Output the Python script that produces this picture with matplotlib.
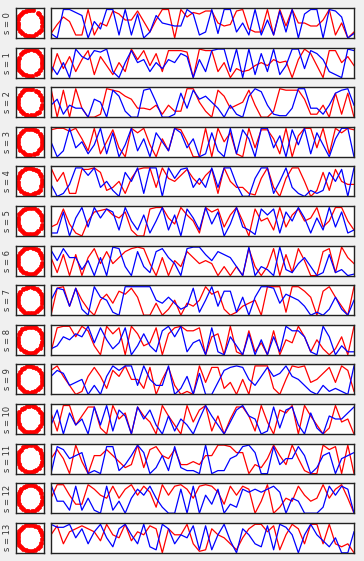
import numpy as np
import matplotlib
matplotlib.use("Agg")
import matplotlib.pyplot as plt

# --- data: one red and one blue series per row ---
red = [
    [0.15,0.45,0.7,0.55,0.1, 0.1,0.95,0.1,0.5,0.4,
     0.9,0.8,0.6,0.6,0.9,0.55,0.2,0.6,0.95,0.95,
     0.0,0.95,0.7,0.85,0.8,0.9,0.9,0.5,0.4,0.45,
     0.9,0.95,0.3,0.2,0.2,0.95,0.1,0.95,0.4,0.95,
     0.5,0.5,0.4,0.4,0.6,0.95,0.1,0.5,0.0,0.2],
    [0.1,0.8,0.3,0.7,0.2,0.6,0.9,0.1,0.7,0.4,
     0.1,0.5,0.2,0.95,0.6,0.9,0.4,0.8,0.2,0.9,
     0.9,0.9,0.85,0.0,0.95,0.9,0.9,0.2,0.5,0.0,
     0.3,0.2,0.25,0.4,0.5,0.4,0.6,0.5,0.55,0.0,
     0.6,0.95,0.8,0.4,0.0,0.9,0.9,0.5,0.7,0.4],
    [0.95,0.0,0.9,0.0,0.95,0.3,0.0,0.0,0.1,0.95,
     0.9,0.85,0.7,0.6,0.3,0.3,0.25,0.4,0.1,0.4,
     0.2,0.2,0.95,0.95,0.5,0.2,0.0,0.9,0.7,0.3,
     0.4,0.5,0.9,0.4,0.0,0.0,0.2,0.95,0.9,0.9,
     0.9,0.6,0.1,0.1,0.4,0.0,0.8,0.1,0.8,0.0],
    [0.9,0.95,0.95,0.85,0.95,0.6,0.2,0.95,0.1,0.5,
     0.9,0.3,0.0,0.95,0.8,0.95,0.4,0.0,0.6,0.2,
     0.95,0.9,0.5,0.0,0.0,0.95,0.0,0.95,0.5,0.8,
     0.1,0.0,0.95,0.3,0.9,0.9,0.6,0.1,0.95,0.0,
     0.7,0.95,0.95,0.3,0.95,0.1,0.95,0.8,0.95,0.9],
    [0.95,0.5,0.8,0.1,0.1,0.9,0.9,0.95,0.8,0.2,
     0.3,0.5,0.1,0.6,0.9,0.95,0.95,0.3,0.95,0.6,
     0.5,0.7,0.9,0.6,0.4,0.7,0.9,0.1,0.95,0.5,
     0.3,0.3,0.1,0.05,0.6,0.95,0.3,0.0,0.6,0.95,
     0.95,0.5,0.0,0.2,0.8,0.2,0.9,0.5,0.4,0.4],
    [0.3,0.4,0.9,0.4,0.1,0.0,0.5,0.8,0.85,0.9,
     0.7,0.6,0.8,0.2,0.0,0.0,0.9,0.95,0.95,0.6,
     0.4,0.95,0.7,0.5,0.1,0.95,0.8,0.9,0.3,0.7,
     0.95,0.5,0.0,0.9,0.5,0.6,0.2,0.95,0.3,0.7,
     0.9,0.5,0.6,0.95,0.3,0.5,0.95,0.95,0.5,0.2],
    [0.6,0.1,0.7,0.0,0.7,0.0,0.6,0.9,0.4,0.8,
     0.4,0.6,0.8,0.9,0.95,0.9,0.4,0.0,0.6,0.0,
     0.5,0.3,0.8,0.6,0.4,0.5,0.4,0.0,0.3,0.0,
     0.3,0.0,0.9,0.3,0.0,0.3,0.9,0.0,0.7,0.1,
     0.9,0.5,0.0,0.0,0.8,0.9,0.1,0.95,0.6,0.4],
    [0.0,0.9,0.95,0.3,0.9,0.5,0.2,0.0,0.5,0.7,
     0.4,0.8,0.7,0.9,0.6,0.0,0.0,0.4,0.0,0.2,
     0.5,0.0,0.4,0.3,0.5,0.95,0.7,0.8,0.2,0.0,
     0.1,0.3,0.4,0.5,0.0,0.95,0.95,0.95,0.1,0.95,
     0.95,0.8,0.6,0.0,0.8,0.95,0.6,0.3,0.0,0.95],
    [0.1,0.9,0.95,0.95,0.6,0.95,0.8,0.3,0.0,0.95,
     0.7,0.9,0.0,0.95,0.7,0.3,0.4,0.9,0.0,0.7,
     0.9,0.95,0.8,0.8,0.9,0.0,0.6,0.7,0.0,0.95,
     0.1,0.0,0.8,0.1,0.4,0.0,0.8,0.0,0.5,0.4,
     0.95,0.6,0.1,0.5,0.2,0.0,0.2,0.6,0.0,0.95],
    [0.8,0.95,0.6,0.3,0.0,0.1,0.6,0.9,0.6,0.2,
     0.8,0.6,0.95,0.5,0.5,0.2,0.9,0.0,0.5,0.9,
     0.3,0.0,0.1,0.0,0.95,0.4,0.9,0.9,0.2,0.4,
     0.0,0.5,0.0,0.95,0.95,0.95,0.2,0.0,0.5,0.95,
     0.9,0.95,0.4,0.5,0.7,0.9,0.4,0.95,0.8,0.1],
    [0.7,0.1,0.95,0.95,0.3,0.6,0.9,0.9,0.2,0.0,
     0.95,0.5,0.7,0.0,0.9,0.6,0.4,0.0,0.95,0.6,
     0.3,0.0,0.95,0.4,0.8,0.95,0.1,0.6,0.0,0.5,
     0.9,0.9,0.6,0.1,0.95,0.4,0.0,0.8,0.7,0.95,
     0.0,0.95,0.6,0.3,0.0,0.2,0.95,0.4,0.5,0.0],
    [0.5,0.8,0.5,0.0,0.95,0.4,0.0,0.6,0.6,0.8,
     0.6,0.4,0.2,0.3,0.95,0.2,0.8,0.9,0.6,0.5,
     0.8,0.3,0.3,0.4,0.3,0.6,0.6,0.95,0.95,0.9,
     0.7,0.7,0.0,0.3,0.2,0.5,0.95,0.6,0.3,0.95,
     0.5,0.1,0.0,0.0,0.95,0.8,0.9,0.0,0.95,0.0],
    [0.5,0.95,0.95,0.6,0.3,0.3,0.95,0.8,0.6,0.5,
     0.9,0.5,0.8,0.95,0.6,0.9,0.7,0.2,0.95,0.6,
     0.9,0.95,0.8,0.5,0.9,0.95,0.9,0.7,0.3,0.9,
     0.6,0.9,0.8,0.0,0.4,0.95,0.0,0.2,0.5,0.4,
     0.9,0.6,0.4,0.5,0.95,0.5,0.8,0.95,0.5,0.0],
    [0.6,0.9,0.3,0.7,0.8,0.9,0.8,0.7,0.4,0.95,
     0.6,0.5,0.95,0.4,0.7,0.6,0.9,0.8,0.0,0.8,
     0.6,0.6,0.95,0.3,0.05,0.1,0.8,0.6,0.5,0.3,
     0.1,0.5,0.8,0.95,0.95,0.7,0.9,0.1,0.6,0.95,
     0.8,0.3,0.95,0.95,0.3,0.95,0.3,0.2,0.3,0.0],
]

blue = [
    [0.15,0.0,0.95,0.95,0.85,0.75,0.0,0.55,0.3,0.95,
     0.95,0.1,0.95,0.1,0.8,0.0,0.2,0.75,0.5,0.45,
     0.4,0.4,0.95,0.8,0.1,0.2,0.95,0.15,0.95,0.95,
     0.2,0.5,0.1,0.95,0.1,0.6,0.1,0.9,0.2,0.95,
     0.0,0.8,0.95,0.95,0.0,0.95,0.9,0.7,0.0,0.15],
    [0.4,0.1,0.5,0.0,0.95,0.7,0.6,0.9,0.85,0.95,
     0.2,0.0,0.5,0.9,0.5,0.6,0.2,0.5,0.3,0.6,
     0.5,0.8,0.7,0.0,0.6,0.2,0.9,0.95,0.95,0.2,
     0.95,0.0,0.95,0.1,0.8,0.2,0.95,0.1,0.4,0.95,
     0.95,0.3,0.9,0.8,0.6,0.2,0.1,0.0,0.95,0.9],
    [0.4,0.6,0.1,0.4,0.3,0.3,0.0,0.6,0.5,0.0,
     0.9,0.7,0.2,0.0,0.0,0.9,0.95,0.5,0.0,0.0,
     0.1,0.8,0.3,0.9,0.6,0.7,0.5,0.3,0.0,0.4,
     0.1,0.0,0.7,0.95,0.85,0.4,0.1,0.05,0.05,0.3,
     0.95,0.95,0.3,0.3,0.1,0.4,0.8,0.9,0.95,0.4],
    [0.5,0.0,0.2,0.95,0.3,0.5,0.1,0.4,0.95,0.1,
     0.8,0.0,0.4,0.95,0.2,0.6,0.0,0.8,0.5,0.2,
     0.95,0.8,0.3,0.6,0.0,0.1,0.8,0.2,0.0,0.95,
     0.1,0.9,0.6,0.0,0.95,0.95,0.3,0.7,0.0,0.9,
     0.4,0.95,0.1,0.8,0.4,0.0,0.6,0.95,0.95,0.0],
    [0.4,0.0,0.1,0.4,0.95,0.95,0.7,0.95,0.3,0.5,
     0.2,0.0,0.8,0.5,0.95,0.1,0.95,0.95,0.0,0.95,
     0.6,0.9,0.95,0.3,0.6,0.3,0.95,0.3,0.95,0.95,
     0.4,0.0,0.0,0.6,0.95,0.95,0.1,0.5,0.95,0.3,
     0.1,0.0,0.2,0.1,0.2,0.8,0.5,0.9,0.0,0.95],
    [0.1,0.1,0.8,0.0,0.6,0.95,0.3,0.95,0.6,0.9,
     0.8,0.2,0.95,0.5,0.2,0.7,0.1,0.5,0.95,0.2,
     0.7,0.0,0.9,0.6,0.2,0.95,0.4,0.8,0.0,0.4,
     0.95,0.3,0.2,0.05,0.9,0.7,0.9,0.1,0.8,0.5,
     0.95,0.6,0.1,0.6,0.2,0.95,0.3,0.8,0.1,0.2],
    [0.85,0.5,0.9,0.6,0.6,0.2,0.5,0.0,0.6,0.0,
     0.95,0.9,0.3,0.0,0.8,0.3,0.1,0.8,0.9,0.6,
     0.4,0.0,0.9,0.95,0.95,0.7,0.5,0.8,0.7,0.6,
     0.3,0.0,0.95,0.0,0.3,0.2,0.0,0.95,0.2,0.1,
     0.4,0.6,0.3,0.0,0.1,0.7,0.1,0.2,0.0,0.05],
    [0.5,0.9,0.85,0.3,0.9,0.2,0.0,0.95,0.6,0.5,
     0.1,0.0,0.95,0.95,0.95,0.95,0.95,0.5,0.4,0.6,
     0.4,0.2,0.3,0.9,0.1,0.5,0.95,0.3,0.8,0.8,
     0.1,0.6,0.0,0.6,0.95,0.95,0.9,0.4,0.7,0.6,
     0.5,0.3,0.0,0.1,0.0,0.2,0.6,0.2,0.0,0.5],
    [0.2,0.3,0.6,0.5,0.7,0.6,0.95,0.4,0.9,0.5,
     0.2,0.4,0.9,0.0,0.3,0.7,0.3,0.1,0.8,0.95,
     0.6,0.95,0.1,0.4,0.5,0.0,0.9,0.1,0.0,0.6,
     0.3,0.0,0.7,0.0,0.5,0.0,0.6,0.1,0.95,0.8,
     0.8,0.6,0.1,0.0,0.95,0.6,0.0,0.3,0.1,0.1],
    [0.6,0.8,0.7,0.3,0.4,0.5,0.0,0.3,0.0,0.6,
     0.95,0.8,0.95,0.95,0.3,0.95,0.5,0.3,0.3,0.95,
     0.0,0.2,0.6,0.0,0.7,0.0,0.0,0.4,0.8,0.9,
     0.95,0.9,0.5,0.3,0.6,0.9,0.6,0.7,0.95,0.6,
     0.5,0.3,0.1,0.0,0.3,0.1,0.2,0.1,0.0,0.95],
    [0.3,0.8,0.0,0.7,0.3,0.5,0.0,0.9,0.3,0.95,
     0.1,0.8,0.6,0.0,0.9,0.5,0.8,0.3,0.0,0.6,
     0.1,0.5,0.3,0.0,0.5,0.95,0.6,0.3,0.0,0.4,
     0.8,0.95,0.6,0.5,0.0,0.1,0.9,0.2,0.8,0.9,
     0.3,0.0,0.7,0.2,0.0,0.6,0.5,0.5,0.7,0.9],
    [0.0,0.9,0.8,0.5,0.6,0.7,0.0,0.1,0.0,0.9,
     0.9,0.1,0.3,0.6,0.95,0.7,0.0,0.2,0.6,0.1,
     0.9,0.2,0.1,0.1,0.0,0.95,0.0,0.1,0.1,0.5,
     0.6,0.9,0.95,0.7,0.0,0.0,0.9,0.3,0.5,0.5,
     0.9,0.6,0.0,0.2,0.6,0.7,0.0,0.5,0.6,0.7],
    [0.95,0.4,0.4,0.1,0.9,0.1,0.5,0.1,0.0,0.9,
     0.1,0.4,0.0,0.5,0.8,0.6,0.9,0.5,0.2,0.0,
     0.0,0.8,0.0,0.9,0.0,0.6,0.3,0.8,0.0,0.3,
     0.2,0.8,0.7,0.8,0.7,0.8,0.9,0.7,0.0,0.5,
     0.4,0.0,0.0,0.0,0.2,0.9,0.6,0.9,0.8,0.0],
    [0.95,0.85,0.85,0.95,0.5,0.8,0.3,0.7,0.95,0.5,
     0.2,0.8,0.95,0.6,0.3,0.95,0.2,0.1,0.95,0.8,
     0.3,0.6,0.5,0.9,0.1,0.9,0.1,0.6,0.95,0.4,
     0.0,0.8,0.6,0.3,0.2,0.9,0.1,0.95,0.85,0.6,
     0.0,0.6,0.95,0.6,0.4,0.2,0.5,0.0,0.0,0.7],
]

# angles (degrees) of the red dots on the small circle plots
angles = [
    [5,18,27,40,52,75,88,96,110,122,135,150,163,178,190,200,215,228,245,262,270,283,300,318,330,345],
    [2,14,30,44,58,70,85,100,115,127,140,158,172,185,198,212,225,238,252,266,280,297,310,325,340,352],
    [8,20,35,47,60,80,92,105,118,131,146,160,170,183,195,208,222,236,250,258,275,290,305,315,335,350],
    [0,12,25,38,55,67,82,95,108,124,139,152,168,180,193,205,219,233,247,260,272,288,302,320,332,347],
    [6,22,33,49,63,76,90,102,113,128,143,155,166,181,197,210,226,240,255,268,282,295,308,322,338,355],
    [3,16,29,42,57,72,86,99,112,125,137,149,165,176,189,203,218,230,243,257,271,286,299,313,328,344],
    [10,24,36,50,62,78,91,104,119,133,147,161,174,187,199,213,224,237,251,265,278,292,306,319,334,349],
    [1,15,28,41,54,69,83,97,111,126,141,154,167,179,192,206,220,234,248,261,274,289,303,316,331,346],
    [7,19,32,45,59,73,87,101,116,129,142,156,171,184,196,209,223,239,253,264,279,293,307,321,336,351],
    [4,17,31,46,61,74,89,103,117,130,144,159,173,186,201,214,227,241,254,267,281,296,311,324,339,353],
    [9,21,34,48,64,77,93,106,120,132,148,162,175,188,202,216,229,242,256,269,284,298,312,326,341,356],
    [2,13,26,39,53,68,84,98,109,123,138,151,164,177,191,204,217,231,244,259,273,287,301,314,329,343],
    [6,23,37,51,65,79,94,107,121,134,145,157,169,182,194,207,221,235,249,263,277,291,304,317,333,348],
    [11,25,38,52,66,81,95,110,122,136,150,163,176,189,200,211,225,238,252,267,280,294,309,323,337,354],
]

labels = ["s = %d" % i for i in range(len(red))]

# --- figure ---
W, H = 364, 561
fig = plt.figure(figsize=(W / 100, H / 100), dpi=100, facecolor="#f0f0f0")

top0, pitch, hgt = 8, 39.6, 30
spine_col = "#222222"

for i in range(len(red)):
    top = top0 + pitch * i
    bottom = 1 - (top + hgt) / H

    # small circle panel
    axc = fig.add_axes([16 / W, bottom, 28 / W, hgt / H])
    th = np.deg2rad(angles[i])
    axc.plot(np.cos(th), np.sin(th), "o", color="red", ms=3.0, mec="red", mew=0.5)
    axc.set_xlim(-1.13, 1.13)
    axc.set_ylim(-1.13, 1.13)
    axc.set_xticks([])
    axc.set_yticks([])

    # wide line panel
    axl = fig.add_axes([51 / W, bottom, 303 / W, hgt / H])
    axl.plot(np.arange(len(red[i])), red[i], color="red", lw=0.9)
    axl.plot(np.arange(len(blue[i])), blue[i], color="blue", lw=0.9)
    axl.set_xlim(0, max(len(red[i]), len(blue[i])) - 1)
    axl.set_ylim(0, 1)
    axl.set_xticks([])
    axl.set_yticks([])

    for ax in (axc, axl):
        for sp in ax.spines.values():
            sp.set_color(spine_col)
            sp.set_linewidth(1.0)

    fig.text(8 / W, 1 - (top + hgt / 2) / H, labels[i], rotation=90,
             ha="center", va="center", fontsize=6, color="#333333")

fig.savefig("out.png", dpi=100, facecolor=fig.get_facecolor())
